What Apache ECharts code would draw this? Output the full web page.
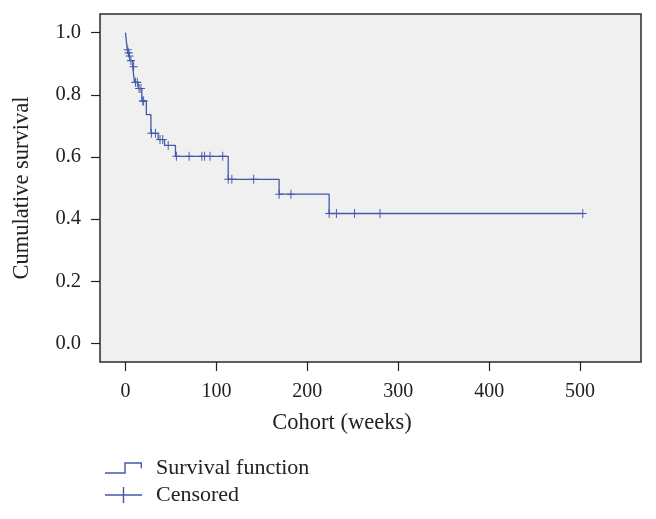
<!DOCTYPE html>
<html>
<head>
<meta charset="utf-8">
<script src="https://cdn.jsdelivr.net/npm/echarts@6/dist/echarts.min.js"></script>
<style>
html,body{margin:0;padding:0;background:#fff;}
#c{width:656px;height:519px;}
</style>
</head>
<body>
<div id="c"></div>
<script>
// Kaplan-Meier step points (time in weeks, cumulative survival)
const stepTimes = [0, 2, 3, 4, 5, 8, 9, 10, 14, 18, 23, 28, 36, 43, 55, 113, 169, 224, 503];
const stepSurv  = [1.0, 0.945, 0.935, 0.925, 0.91, 0.89, 0.862, 0.84, 0.82, 0.78, 0.736, 0.676, 0.656, 0.637, 0.602, 0.528, 0.48, 0.418, 0.418];
// Censored observations
const censTimes = [2.5, 3.5, 4.5, 6, 9, 11, 13, 15, 17, 19, 20, 28.5, 33, 38, 41, 47, 56, 70, 84, 87, 93, 107, 113, 117, 141, 169, 182, 224, 232, 252, 280, 503];
const censSurv  = [0.945, 0.935, 0.925, 0.91, 0.89, 0.84, 0.84, 0.82, 0.82, 0.78, 0.78, 0.676, 0.676, 0.656, 0.656, 0.637, 0.602, 0.602, 0.602, 0.602, 0.602, 0.602, 0.528, 0.528, 0.528, 0.48, 0.48, 0.418, 0.418, 0.418, 0.418, 0.418];
const xTicks = [0, 100, 200, 300, 400, 500];
const yTicks = [0, 0.2, 0.4, 0.6, 0.8, 1.0];
const legendNames = ['Survival function', 'Censored'];

const blue = '#4458aa';
const font = 'Liberation Serif';
const chart = echarts.init(document.getElementById('c'));
const stepData = stepTimes.map((t, i) => [t, stepSurv[i]]);
const censData = censTimes.map((t, i) => [t, censSurv[i]]);
const plusPath = 'path://M0,4.4h10v1.2h-10z M4.4,0h1.2v10h-1.2z';
const stepIcon = 'path://M0,13.2h19.3v-10h17.7v6h-1.4v-4.6h-14.9v10h-20.7z';
const censIcon = 'path://M0,7.3h37v1.4h-37z M17.8,0h1.4v16h-1.4z';
const legendBase = {
  orient: 'vertical', left: 100, itemWidth: 37, itemHeight: 16,
  textStyle: {fontFamily: font, fontSize: 22, color: '#222', padding: [0, 0, 0, 9]},
  itemStyle: {borderWidth: 0, opacity: 1}
};

chart.setOption({
  animation: false,
  backgroundColor: '#ffffff',
  grid: {left: 100, top: 14, right: 15, bottom: 157, show: true, backgroundColor: '#f0f0f0', borderColor: '#2a2a2a', borderWidth: 1.5},
  xAxis: {
    type: 'value', min: -28, max: 567,
    name: 'Cohort (weeks)', nameLocation: 'middle', nameGap: 50,
    nameTextStyle: {fontFamily: font, fontSize: 22.5, color: '#222', padding: [0, 57, 0, 0]},
    axisLine: {show: false, onZero: false},
    splitLine: {show: false},
    axisTick: {show: true, inside: false, length: 9, customValues: xTicks, lineStyle: {color: '#222', width: 1.2}},
    axisLabel: {customValues: xTicks, margin: 20, fontFamily: font, fontSize: 20, color: '#222'}
  },
  yAxis: {
    type: 'value', min: -0.06, max: 1.06,
    name: 'Cumulative survival', nameLocation: 'middle', nameGap: 66,
    nameTextStyle: {fontFamily: font, fontSize: 22.5, color: '#222'},
    axisLine: {show: false, onZero: false},
    splitLine: {show: false},
    axisTick: {show: true, inside: false, length: 9, customValues: yTicks, lineStyle: {color: '#222', width: 1.2}},
    axisLabel: {customValues: yTicks, margin: 19, fontFamily: font, fontSize: 20.5, color: '#222', formatter: v => v.toFixed(1)}
  },
  legend: [
    Object.assign({}, legendBase, {top: 452, data: [{name: legendNames[0], icon: stepIcon}]}),
    Object.assign({}, legendBase, {top: 479, data: [{name: legendNames[1], icon: censIcon}]})
  ],
  series: [
    {name: legendNames[0], type: 'line', step: 'end', data: stepData, showSymbol: false, symbol: 'none',
     lineStyle: {color: blue, width: 1.3}, itemStyle: {color: blue}, z: 2},
    {name: legendNames[1], type: 'scatter', data: censData, symbol: plusPath, symbolSize: [8, 9],
     itemStyle: {color: blue, opacity: 1}, z: 3}
  ]
});
</script>
</body>
</html>
